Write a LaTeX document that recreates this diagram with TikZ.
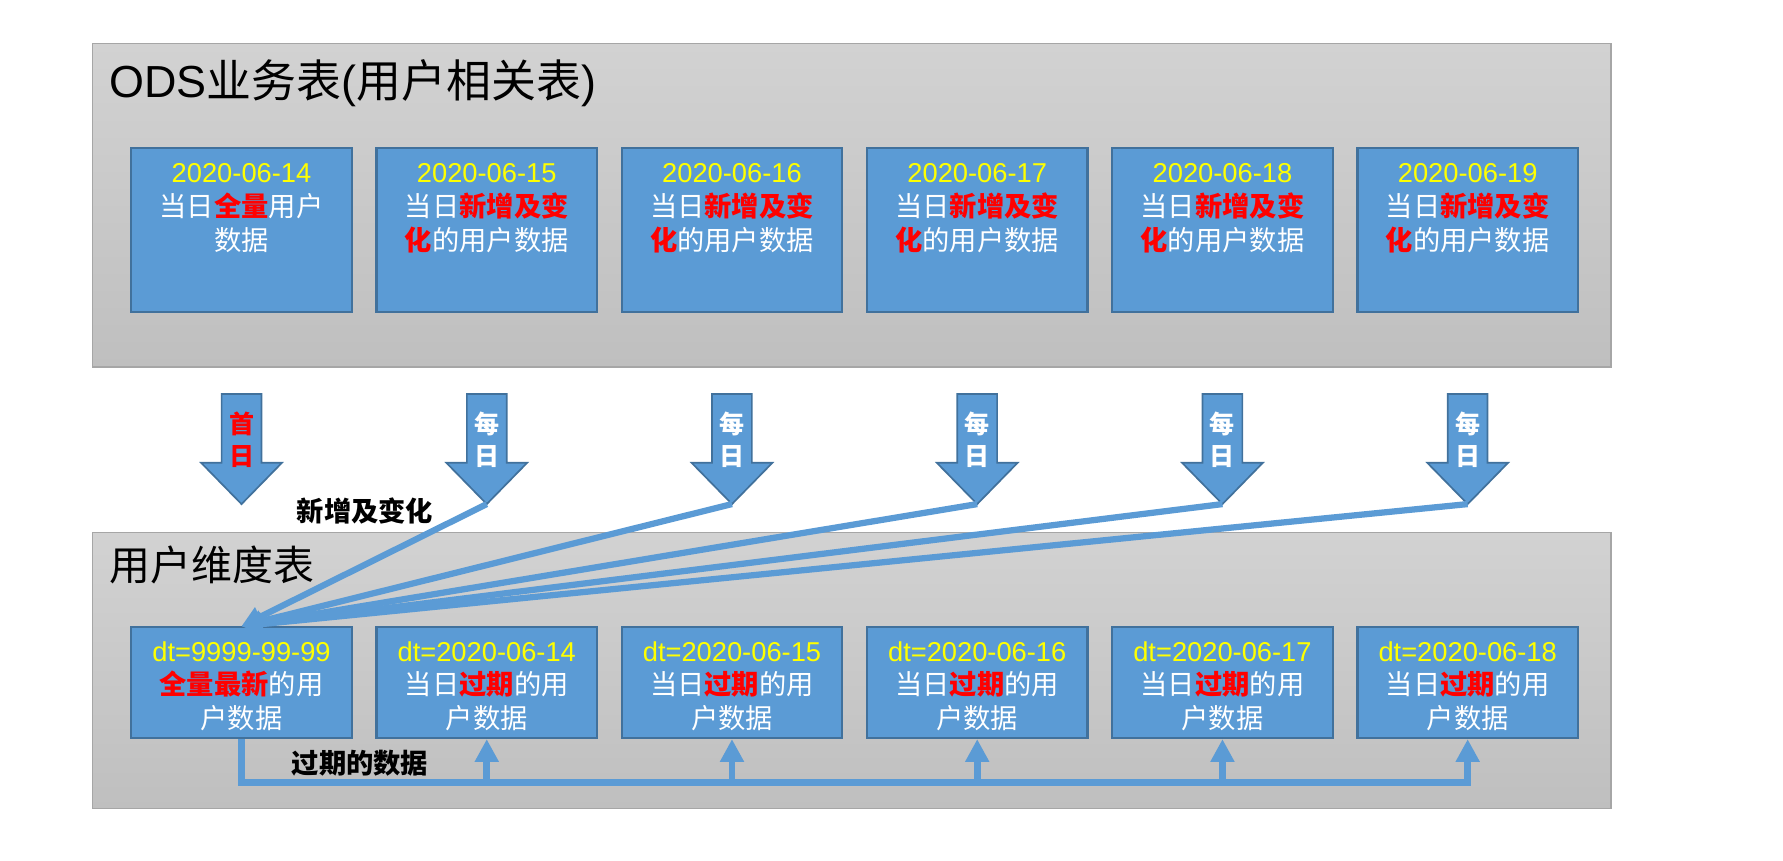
\documentclass[tikz,border=0pt]{standalone}
\usepackage{fontspec}
\setmainfont{Liberation Sans}
\newfontfamily\cjk{Noto Sans CJK SC}
\usetikzlibrary{arrows.meta,calc}
\definecolor{panelTop}{HTML}{D2D2D2}
\definecolor{panelBot}{HTML}{BFBFBF}
\definecolor{panelLine}{HTML}{A6A6A6}
\definecolor{boxFill}{HTML}{5B9BD5}
\definecolor{boxLine}{HTML}{41719C}
\definecolor{dateYellow}{HTML}{FFFF00}
\definecolor{hlRed}{HTML}{FF0000}
\newcommand\hl[1]{{\color{hlRed}\bfseries #1}}
\newcommand\boxtext[2]{\parbox[t]{200pt}{\centering\fontsize{24}{29.5}\selectfont\leavevmode{\color{dateYellow}#1}\\{\color{white}\cjk #2}}}
\begin{document}
\begin{tikzpicture}[x=1pt,y=1pt,
  panel/.style={draw=panelLine, line width=1.2pt, top color=panelTop, bottom color=panelBot, anchor=north west, inner sep=0pt},
  dbox/.style={draw=boxLine, line width=2pt, fill=boxFill, minimum width=194pt, minimum height=#1, inner sep=0pt, anchor=north},
  btext/.style={anchor=base, inner sep=0pt},
  ptitle/.style={anchor=base west, inner sep=0pt, text=black},
  barrow/.style={draw=boxLine, line width=1.5pt, fill=boxFill, line join=miter},
  alabel/.style={font=\cjk\bfseries\fontsize{22}{28}\selectfont, align=center, inner sep=0pt},
  flow/.style={draw=boxFill, line width=5.5pt, -{Triangle[length=18pt,width=18pt]}},
  bus/.style={draw=boxFill, line width=6pt},
  upflow/.style={draw=boxFill, line width=6pt, -{Triangle[length=20pt,width=20pt]}},
  blabel/.style={font=\cjk\bfseries\fontsize{24}{24}\selectfont, inner sep=0pt, text=black}]
\useasboundingbox (0,0) rectangle (1568,-757);

% panels
\node[panel, minimum width=1335pt, minimum height=284.4pt] (odsPanel) at (81,-37.6) {};
\node[panel, minimum width=1335pt, minimum height=243pt] (dimPanel) at (81,-467.6) {};
\node[ptitle, font=\fontsize{39.5}{40}\selectfont] (odsTitle) at (96,-86) {ODS{\cjk 业务表}({\cjk 用户相关表})};
\node[ptitle, font=\cjk\fontsize{36}{36}\selectfont] (dimTitle) at (96,-510.7) {用户维度表};

% top boxes
\foreach \i in {1,...,6}
  \node[dbox=144pt] (t\i) at ({212.4+(\i-1)*215.66},-129.3) {};
\node[btext] (tt1) at ($(t1.north)+(0,-31.6)$) {\boxtext{2020-06-14}{当日\hl{全量}用户\\数据}};
\foreach \i/\d in {2/15,3/16,4/17,5/18,6/19}
  \node[btext] (tt\i) at ($(t\i.north)+(0,-31.6)$) {\boxtext{2020-06-\d}{当日\hl{新增及变}\\\hl{化}的用户数据}};

% bottom boxes
\foreach \i in {1,...,6}
  \node[dbox=97.4pt] (b\i) at ({212.4+(\i-1)*215.66},-550.6) {};
\node[btext] (bt1) at ($(b1.north)+(0,-31)$) {\boxtext{dt=9999-99-99}{\hl{全量最新}的用\\户数据}};
\foreach \i/\d in {2/14,3/15,4/16,5/17,6/18}
  \node[btext] (bt\i) at ($(b\i.north)+(0,-31)$) {\boxtext{dt=2020-06-\d}{当日\hl{过期}的用\\户数据}};

% block arrows
\foreach \i in {1,...,6}{
  \pgfmathsetmacro{\cx}{212.4+(\i-1)*215.66}
  \filldraw[barrow] (\cx-17.5,-346.5) -- (\cx+17.5,-346.5) -- (\cx+17.5,-407) -- (\cx+35.5,-407)
     -- (\cx,-443.3) -- (\cx-35.5,-407) -- (\cx-17.5,-407) -- cycle;
  \coordinate (tip\i) at (\cx,-443.3);
}
\node[alabel, text=hlRed] (lab1) at (212.4,-387) {首\\日};
\foreach \i in {2,...,6}
  \node[alabel, text=white] (lab\i) at ({212.4+(\i-1)*215.66},-387) {每\\日};

% converging flows
\foreach \i in {6,5,4,3,2}
  \draw[flow] (tip\i) -- (b1.north);
\node[blabel] (lblNew) at (321,-449) {新增及变化};

% expired data bus
\coordinate (busY) at (0,-688);
\draw[bus, -{Triangle[length=20pt,width=20pt]}] (b1.south) -- (b1.south |- busY) -| (b6.south);
\foreach \i in {2,...,5}
  \draw[upflow] (b\i.south |- busY) -- (b\i.south);
\node[blabel] (lblExp) at (316.6,-671.5) {过期的数据};
\end{tikzpicture}
\end{document}
